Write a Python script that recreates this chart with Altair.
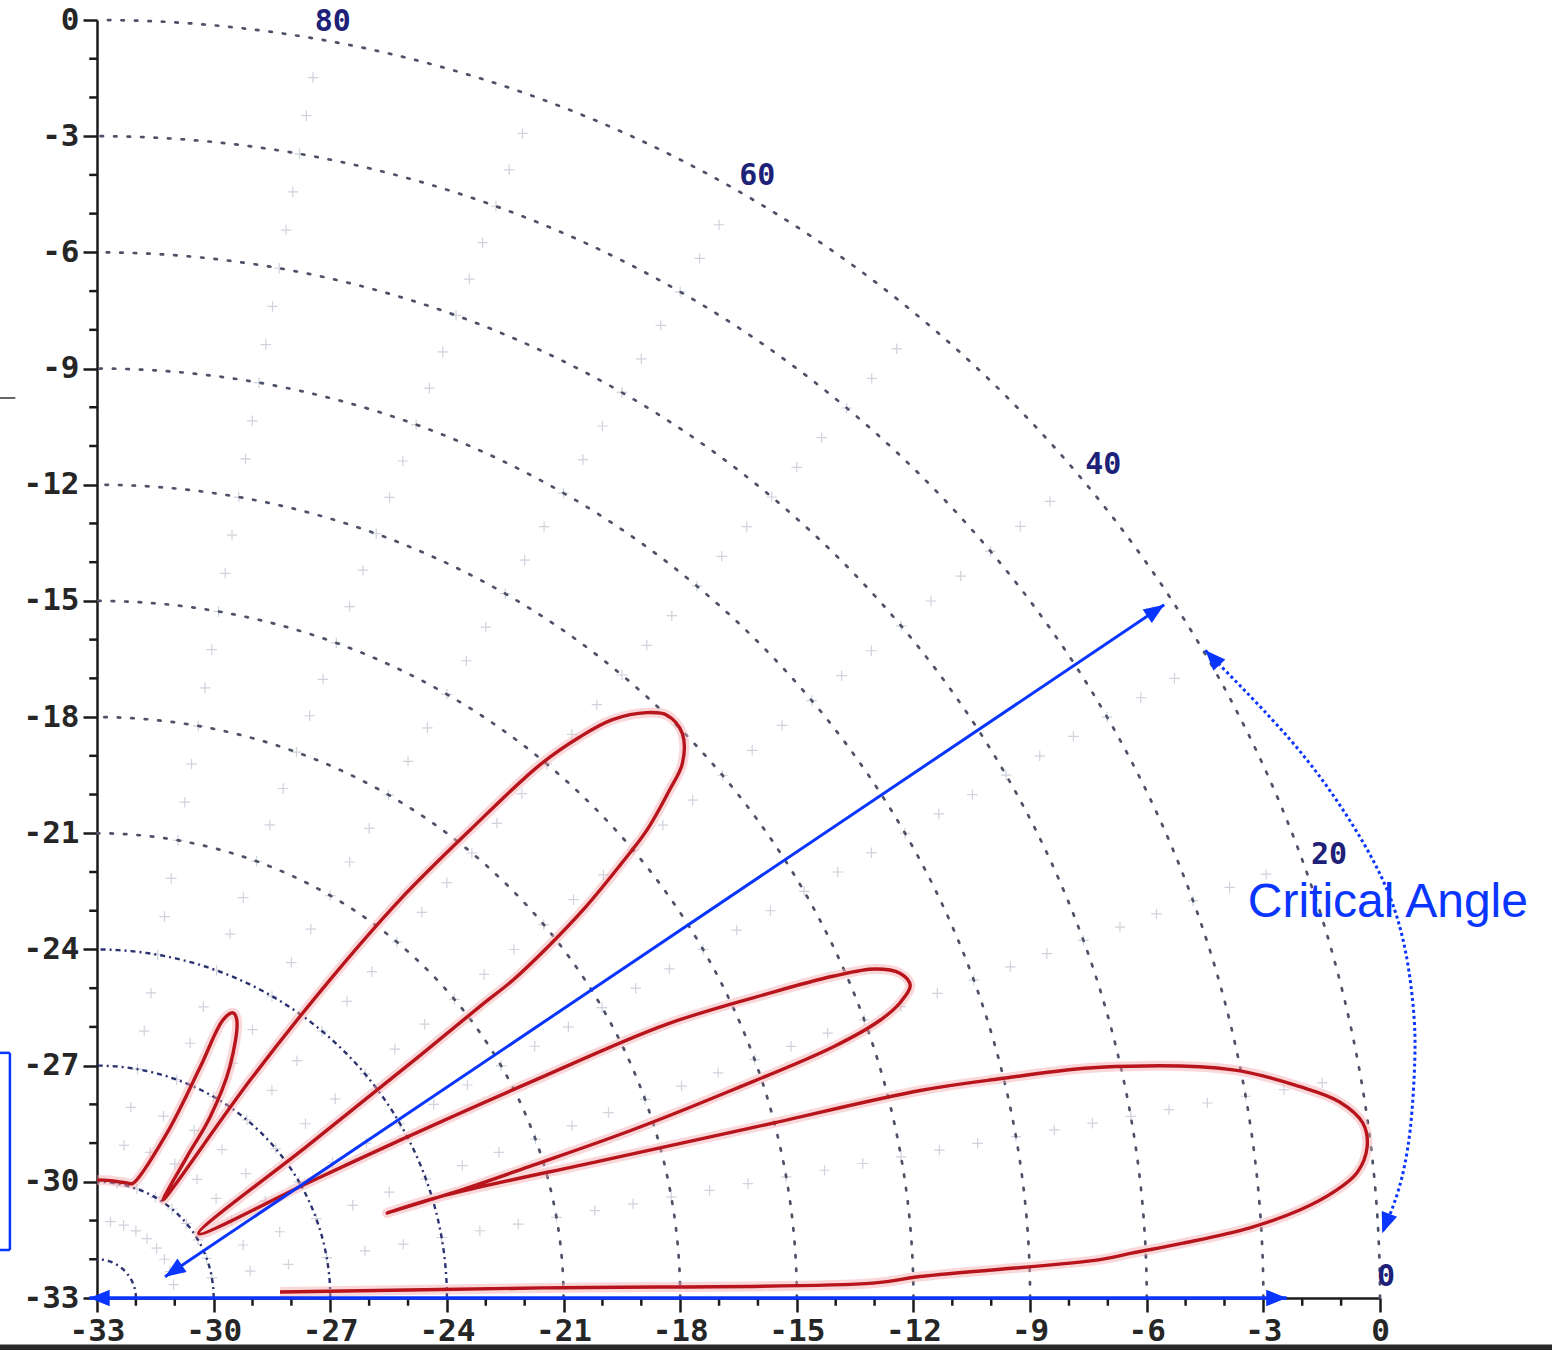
import numpy as np
import pandas as pd
import altair as alt

SPAN = 33.0  # dB from the plot origin (-33, -33) out to the 0 dB ring

# Elevation pattern traced as one outline: elevation angle (deg) and gain (dB)
ELEV_DEG = [90, 85, 80, 75, 72.7, 67.1, 66.0, 65.7, 64.6, 63.4, 60.2, 58.1, 57.6, 56.1,
            55.0, 53.9, 52.85, 51.55, 50.4, 49.4, 48.4, 46.9, 45.75, 44.1,
            42.5, 41.7, 40.5, 39.7, 38.8, 38.0, 37.5, 37.4, 37.0, 36.0, 32.4,
            28.7, 27.6, 26.55, 25.75, 24.5, 23.7, 23.0, 22.1, 21.1, 20.25, 19.6, 18.9,
            18.2, 17.5, 17.0, 16.6, 16.4,
            16.5, 15.3, 14.6, 14.2, 13.7, 13.0, 11.4, 10.0, 9.0, 7.9, 6.8, 5.7, 4.9, 4.2,
            3.5, 2.9, 2.5, 2.2, 1.5, 1.1, 1.3, 1.9]
GAIN_DB = [-29.95, -29.95, -29.95, -29.93, -29.9, -28.37, -26.48, -25.12, -24.85, -24.97,
           -26.13, -27.5, -28.69, -29.95,
           -26.13, -22.84, -20.1, -17.57, -15.14, -13.92, -13.03, -12.3, -11.99, -12.04,
           -12.58, -13.27, -14.4, -15.53, -16.84, -18.32, -19.51, -20.6, -22.59, -26.23,
           -29.9,
           -26.76, -24.2, -20.47, -16.72, -14.06, -12.33, -11.26, -10.71, -10.58, -10.99,
           -11.62, -12.99, -15.78, -18.55, -21.27, -23.07, -25.22,
           -23.7, -19.6, -15.4, -11.16, -9.1, -6.52, -3.19, -1.58, -0.64, -0.13, -0.1,
           -0.43, -1.09, -1.98, -3.29, -5.03, -6.33, -7.18, -11.82, -13.04, -21.53, -28.29]

# Axis ticks (dB)
MAJOR_TICKS = list(range(-33, 1, 3))
MINOR_TICKS = [v for v in range(-33, 1) if v % 3 != 0]

# Grid rings (dB) and elevation spokes
OUTER_RINGS_DB = [-21, -18, -15, -12, -9, -6, -3, 0]
INNER_RINGS_DB = [-32, -30, -27, -24]
SPOKE_DEG = [10, 20, 30, 40, 50, 60, 70, 80]
SPOKE_MARK_DB = list(range(-31, 0))
ANGLE_LABELS = [80, 60, 40, 20, 0]

# Annotations in chart units
CRIT_X = [-31.25, -5.55]
CRIT_Y = [-32.45, -15.10]
BASE_X = [-33.2, -2.4]
BASE_Y = [-33.0, -33.0]
SWEEP_DEG = [30.4, 25.2, 20.95, 16.7, 12.8, 10.3, 7.3, 4.8, 2.9]
SWEEP_DB = [0.05, 0.9, 1.5, 1.85, 1.7, 1.45, 1.05, 0.6, 0.1]
CAPTION = "Critical Angle"
CAPTION_X, CAPTION_Y = -3.4, -23.15

BLUE = "#0a35ff"
RED = "#b8141c"
INK = "#1a1a1a"
ARROW = "M0,0L-0.8,2L0.8,2Z"
CROSS = "M-1,0H1M0,-1V1"
MINOR_LEN = 0.2  # minor tick length in chart units (about 8 px)


def polar(deg, db):
    a = np.radians(np.asarray(deg, dtype=float))
    r = SPAN + np.asarray(db, dtype=float)
    return -SPAN + r * np.cos(a), -SPAN + r * np.sin(a)


def heads(xs, ys):
    """Arrowhead rows at both ends of a polyline, rotated along the line."""
    rows = []
    for tip, prev in ((-1, -2), (0, 1)):
        dx, dy = xs[tip] - xs[prev], ys[tip] - ys[prev]
        rows.append({"x": xs[tip], "y": ys[tip],
                     "rot": (90 - np.degrees(np.arctan2(dy, dx))) % 360})
    return pd.DataFrame(rows)


# pattern outline
px, py = polar(ELEV_DEG, GAIN_DB)
pattern = pd.DataFrame({"x": px, "y": py, "i": range(len(px))})

# rings
sweep = np.arange(0, 90.5, 0.5)
ring_rows = []
for group, rings in (("outer", OUTER_RINGS_DB), ("inner", INNER_RINGS_DB)):
    for db in rings:
        rx, ry = polar(sweep, np.full(sweep.shape, db))
        for k in range(len(sweep)):
            ring_rows.append({"ring": f"{group}{db}", "group": group,
                              "x": rx[k], "y": ry[k], "i": k})
rings_df = pd.DataFrame(ring_rows)

# crosses along spokes
sd, sg = np.meshgrid(SPOKE_DEG, SPOKE_MARK_DB)
cx, cy = polar(sd.ravel(), sg.ravel())
crosses = pd.DataFrame({"x": cx, "y": cy})

# elevation labels just outside the 0 dB ring
lx, ly = polar(ANGLE_LABELS, [0.45] * len(ANGLE_LABELS))
labels = pd.DataFrame({"x": np.minimum(lx, -0.1), "y": np.maximum(ly, -32.45),
                       "t": [str(v) for v in ANGLE_LABELS]})

# minor ticks on both axes
minor_x = pd.DataFrame({"x": MINOR_TICKS, "x2": MINOR_TICKS,
                        "y": [-33.0] * len(MINOR_TICKS),
                        "y2": [-33.0 - MINOR_LEN] * len(MINOR_TICKS)})
minor_y = pd.DataFrame({"y": MINOR_TICKS, "y2": MINOR_TICKS,
                        "x": [-33.0] * len(MINOR_TICKS),
                        "x2": [-33.0 - MINOR_LEN] * len(MINOR_TICKS)})
minor = pd.concat([minor_x, minor_y], ignore_index=True)

# annotation lines
crit = pd.DataFrame({"x": CRIT_X, "y": CRIT_Y, "i": [0, 1]})
base = pd.DataFrame({"x": BASE_X, "y": BASE_Y, "i": [0, 1]})
ax_, ay_ = polar(SWEEP_DEG, SWEEP_DB)
arc = pd.DataFrame({"x": ax_, "y": ay_, "i": range(len(ax_))})
arrowheads = pd.concat([heads(CRIT_X, CRIT_Y), heads(BASE_X, BASE_Y)], ignore_index=True)
arc_heads = heads(list(ax_), list(ay_))
caption = pd.DataFrame({"x": [CAPTION_X], "y": [CAPTION_Y], "t": [CAPTION]})

# small marks along the left edge and bottom edge
side = pd.DataFrame({
    "x": [-35.5, -35.24, -35.5, -35.5, -35.5],
    "x2": [-35.1, -35.24, -35.24, -35.24, 4.5],
    "y": [-9.76, -26.67, -26.67, -31.76, -34.28],
    "y2": [-9.76, -31.76, -26.67, -31.76, -34.28],
    "c": ["#333333", BLUE, BLUE, BLUE, "#2a2a2a"],
    "w": [1.5, 2.5, 2.5, 2.5, 6],
})

LABEL_FONT = "DejaVu Sans Mono"


def make_axis():
    return alt.Axis(values=MAJOR_TICKS, title="", grid=False,
                    labelExpr="'' + datum.value",
                    tickSize=14, tickColor=INK, tickWidth=2.5, domainColor=INK,
                    domainWidth=2.5, labelFont=LABEL_FONT, labelFontWeight="bold",
                    labelFontSize=31, labelColor="#262626", labelPadding=4,
                    labelFlush=False, labelOverlap=False)


xs = alt.Scale(domain=[-33, 0], nice=False, zero=False)
ys = alt.Scale(domain=[-33, 0], nice=False, zero=False)
X = alt.X("x:Q", scale=xs, axis=make_axis())
Y = alt.Y("y:Q", scale=ys, axis=make_axis())
Xn = alt.X("x:Q", scale=xs)
Yn = alt.Y("y:Q", scale=ys)

crosses_layer = alt.Chart(crosses).mark_point(
    shape=CROSS, size=110, filled=False, color="#c8cbd6", strokeWidth=1.2, opacity=0.85
).encode(x=X, y=Y)

minor_ticks = alt.Chart(minor).mark_rule(color=INK, strokeWidth=2.5).encode(
    x=Xn, x2="x2:Q", y=Yn, y2="y2:Q")

outer_rings = alt.Chart(rings_df[rings_df.group == "outer"]).mark_line(
    color="#4d5268", strokeWidth=2.7, strokeDash=[2.5, 11], strokeCap="round"
).encode(x=Xn, y=Yn, detail="ring:N", order="i:Q")

inner_rings = alt.Chart(rings_df[rings_df.group == "inner"]).mark_line(
    color="#2c3170", strokeWidth=2.4, strokeDash=[5, 4, 2, 4]
).encode(x=Xn, y=Yn, detail="ring:N", order="i:Q")

angle_text = alt.Chart(labels).mark_text(
    font=LABEL_FONT, fontWeight="bold", fontSize=30, color="#1d2178",
    align="center", baseline="middle", dx=10
).encode(x=Xn, y=Yn, text="t:N")

halo = alt.Chart(pattern).mark_line(
    color="#f4a9ad", strokeWidth=10, opacity=0.45, strokeJoin="round",
    interpolate="catmull-rom"
).encode(x=Xn, y=Yn, order="i:Q")

outline = alt.Chart(pattern).mark_line(
    color=RED, strokeWidth=3.4, strokeJoin="round", interpolate="catmull-rom"
).encode(x=Xn, y=Yn, order="i:Q")

crit_line = alt.Chart(crit).mark_line(color=BLUE, strokeWidth=3).encode(
    x=Xn, y=Yn, order="i:Q")
base_line = alt.Chart(base).mark_line(color=BLUE, strokeWidth=3.5).encode(
    x=Xn, y=Yn, order="i:Q")
arc_line = alt.Chart(arc).mark_line(
    color=BLUE, strokeWidth=3, strokeDash=[3, 3], interpolate="natural"
).encode(x=Xn, y=Yn, order="i:Q")

head_marks = alt.Chart(pd.concat([arrowheads, arc_heads], ignore_index=True)).mark_point(
    shape=ARROW, size=420, filled=True, color=BLUE, opacity=1, strokeWidth=0
).encode(x=Xn, y=Yn, angle=alt.Angle("rot:Q", scale=None))

caption_text = alt.Chart(caption).mark_text(
    font="Liberation Sans", fontSize=48, color=BLUE, align="left",
    baseline="alphabetic"
).encode(x=Xn, y=Yn, text="t:N")

side_marks = alt.Chart(side).mark_rule().encode(
    x=Xn, x2="x2:Q", y=Yn, y2="y2:Q",
    color=alt.Color("c:N", scale=None), strokeWidth=alt.StrokeWidth("w:Q", scale=None))

chart = alt.layer(
    crosses_layer, minor_ticks, outer_rings, inner_rings, angle_text, halo, outline,
    crit_line, base_line, arc_line, head_marks, caption_text, side_marks
).properties(
    width=1283, height=1278,
    autosize=alt.AutoSizeParams(type="none"),
    padding={"left": 97, "top": 20, "right": 172, "bottom": 52},
    background="white",
).configure_view(stroke=None)

chart.save("out.html", embed_options={"renderer": "svg", "actions": False})
